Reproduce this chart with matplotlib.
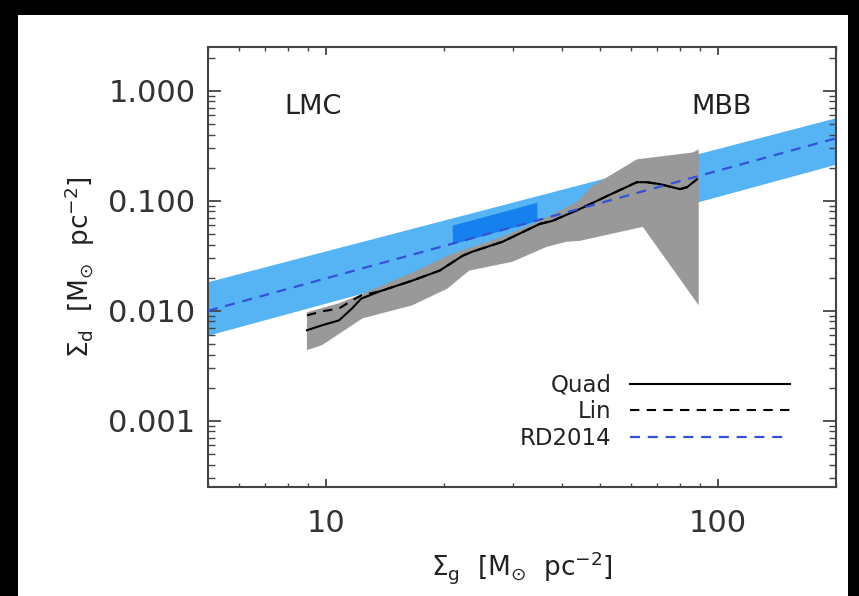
import matplotlib
matplotlib.use('Agg')
import matplotlib.pyplot as plt
import numpy as np
from matplotlib.ticker import FixedLocator, FixedFormatter, LogLocator, NullFormatter
from matplotlib.patches import Rectangle

# ---- data ----
quad_x = [8.94, 9.77, 10.8, 11.65, 12.3, 13.7, 16.6, 19.5, 22.3, 23.6, 28.2, 35.1,
          37.8, 44.4, 52.0, 62.1, 65.8, 71.1, 80.0, 83.4, 88.4]
quad_y = [0.00665, 0.00738, 0.00819, 0.0105, 0.0129, 0.0150, 0.0188, 0.0232, 0.0316,
          0.0344, 0.0424, 0.0616, 0.0656, 0.0841, 0.110, 0.1475, 0.1475, 0.1416,
          0.1276, 0.133, 0.157]
lin_x = quad_x
lin_y = [0.00908, 0.00988, 0.0105, 0.0124, 0.0138, 0.0150, 0.0188, 0.0232, 0.0316,
         0.0344, 0.0424, 0.0616, 0.0656, 0.0841, 0.110, 0.1475, 0.1475, 0.1416,
         0.1276, 0.133, 0.157]

band_up_x = [8.94, 10.8, 12.3, 16.6, 21.0, 28.2, 35.1, 43.6, 47.8, 62.1, 86.3, 89.3]
band_up_y = [0.00968, 0.0117, 0.0141, 0.0222, 0.033, 0.047, 0.0656, 0.0973, 0.136,
             0.238, 0.275, 0.293]
band_lo_x = [8.94, 9.77, 12.4, 16.6, 20.4, 23.2, 29.9, 36.6, 41.1, 44.4, 64.3, 89.3]
band_lo_y = [0.00439, 0.00487, 0.00854, 0.0112, 0.0159, 0.0232, 0.0279, 0.0382,
             0.0424, 0.0432, 0.0579, 0.0112]

rd_x = [5.0, 200.0]
rd_y = [0.0100, 0.37]
rd_lo = [0.0060, 0.215]
rd_hi = [0.0184, 0.57]

dark_x = [21.0, 34.5]
dark_lo = [0.0406, 0.066]
dark_hi = [0.060, 0.097]

xticks = [10, 100]
xticklabels = ['10', '100']
yticks = [0.001, 0.01, 0.1, 1.0]
yticklabels = ['0.001', '0.010', '0.100', '1.000']

labels = ['Quad', 'Lin', 'RD2014']

# ---- figure ----
W, H = 859, 596
fig = plt.figure(figsize=(W / 100, H / 100), dpi=100, facecolor='black')
bg = Rectangle((18 / W, 0), (848 - 18) / W, (596 - 15) / H,
               transform=fig.transFigure, facecolor='white', edgecolor='none')
bg.set_zorder(-10)
fig.add_artist(bg)

ax = fig.add_axes([208 / W, (596 - 487) / H, (836 - 208) / W, (487 - 47) / H])
ax.set_zorder(5)
ax.set_facecolor('white')
ax.set_xscale('log')
ax.set_yscale('log')
ax.set_xlim(5, 200)
ax.set_ylim(2.5e-4, 2.5)

ax.fill_between(rd_x, rd_lo, rd_hi, color='#56b3f4', lw=0, zorder=1)
gx = np.concatenate([band_lo_x, band_up_x[::-1]])
gy = np.concatenate([band_lo_y, band_up_y[::-1]])
ax.fill(gx, gy, color='#999999', lw=0, zorder=2)
ax.fill_between(dark_x, dark_lo, dark_hi, color='#1680ee', lw=0, zorder=3)

l1, = ax.plot(quad_x, quad_y, color='black', lw=1.5, zorder=5)
l2, = ax.plot(lin_x, lin_y, color='black', lw=1.5, dashes=(4.5, 3.5), zorder=4)
l3, = ax.plot(rd_x, rd_y, color='#3551d8', lw=1.6, dashes=(4.5, 3.5), zorder=6)

leg = ax.legend([l1, l2, l3], labels, loc='lower right', markerfirst=False,
                frameon=False, handlelength=7.0, handletextpad=0.8,
                labelspacing=0.15, borderpad=0, borderaxespad=0,
                bbox_to_anchor=(0.927, 0.085), fontsize=16.5)
for t in leg.get_texts():
    t.set_color('#222222')

ax.text(0.167, 0.864, 'LMC', transform=ax.transAxes, ha='center', va='center',
        fontsize=19.5, color='#222222')
ax.text(0.817, 0.864, 'MBB', transform=ax.transAxes, ha='center', va='center',
        fontsize=19.5, color='#222222')

ax.xaxis.set_major_locator(FixedLocator(xticks))
ax.xaxis.set_major_formatter(FixedFormatter(xticklabels))
ax.xaxis.set_minor_locator(LogLocator(base=10, subs=np.arange(2, 10)))
ax.xaxis.set_minor_formatter(NullFormatter())
ax.yaxis.set_major_locator(FixedLocator(yticks))
ax.yaxis.set_major_formatter(FixedFormatter(yticklabels))
ax.yaxis.set_minor_locator(LogLocator(base=10, subs=np.arange(2, 10), numticks=20))
ax.yaxis.set_minor_formatter(NullFormatter())

for s in ax.spines.values():
    s.set_color('#444444')
    s.set_linewidth(1.5)

ax.tick_params(axis='both', which='both', direction='in', top=True, right=True,
               color='#444444', labelcolor='#333333')
ax.tick_params(axis='x', which='major', length=6, width=1.3, labelsize=22, pad=16)
ax.tick_params(axis='x', which='minor', length=3, width=1.0)
ax.tick_params(axis='y', which='major', length=9.5, width=1.3, labelsize=22, pad=9)
ax.tick_params(axis='y', which='minor', length=5, width=1.0)

ax.set_xlabel('$\\Sigma_{\\rm g}$  [M$_{⊙}$  pc$^{-2}$]', fontsize=19, color='#222222',
              labelpad=8)
ax.set_ylabel('$\\Sigma_{\\rm d}$  [M$_{⊙}$  pc$^{-2}$]', fontsize=19, color='#222222',
              labelpad=8)

fig.savefig('out.png', dpi=100, facecolor=fig.get_facecolor())
